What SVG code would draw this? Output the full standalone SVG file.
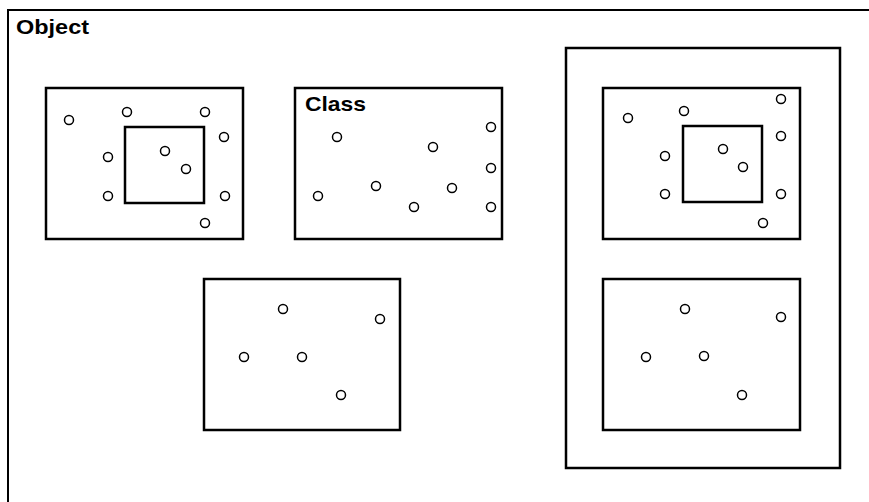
<svg xmlns="http://www.w3.org/2000/svg" width="869" height="502" viewBox="0 0 869 502">
<style>
.box{fill:none;stroke:#000;stroke-width:2.5}
.frame{fill:none;stroke:#000;stroke-width:2}
.o{fill:#fff;stroke:#000;stroke-width:1.5}
.lbl{font-family:"Liberation Sans",Arial,sans-serif;font-weight:bold;font-size:20.5px;fill:#000}
</style>
<rect width="869" height="502" fill="#fff"/>
<g id="object">
<path class="frame" d="M8,502 V10 H869"/>
<text class="lbl" x="16" y="34" textLength="73" lengthAdjust="spacingAndGlyphs">Object</text>
</g>
<g id="obj1">
<rect class="box" x="46" y="88" width="197" height="151"/>
<rect class="box" x="125" y="127" width="79" height="76"/>
<circle class="o" cx="69" cy="120" r="4.5"/>
<circle class="o" cx="127" cy="112" r="4.5"/>
<circle class="o" cx="205" cy="112" r="4.5"/>
<circle class="o" cx="224" cy="137" r="4.5"/>
<circle class="o" cx="108" cy="157" r="4.5"/>
<circle class="o" cx="165" cy="151" r="4.5"/>
<circle class="o" cx="186" cy="169" r="4.5"/>
<circle class="o" cx="108" cy="196" r="4.5"/>
<circle class="o" cx="225" cy="196" r="4.5"/>
<circle class="o" cx="205" cy="223" r="4.5"/>
</g>
<g id="class">
<rect class="box" x="295" y="88" width="207" height="151"/>
<text class="lbl" x="305" y="111" textLength="61" lengthAdjust="spacingAndGlyphs">Class</text>
<circle class="o" cx="337" cy="137" r="4.5"/>
<circle class="o" cx="433" cy="147" r="4.5"/>
<circle class="o" cx="491" cy="127" r="4.5"/>
<circle class="o" cx="491" cy="168" r="4.5"/>
<circle class="o" cx="376" cy="186" r="4.5"/>
<circle class="o" cx="452" cy="188" r="4.5"/>
<circle class="o" cx="318" cy="196" r="4.5"/>
<circle class="o" cx="414" cy="207" r="4.5"/>
<circle class="o" cx="491" cy="207" r="4.5"/>
</g>
<g id="obj2">
<rect class="box" x="204" y="279" width="196" height="151"/>
<circle class="o" cx="283" cy="309" r="4.5"/>
<circle class="o" cx="380" cy="319" r="4.5"/>
<circle class="o" cx="244" cy="357" r="4.5"/>
<circle class="o" cx="302" cy="357" r="4.5"/>
<circle class="o" cx="341" cy="395" r="4.5"/>
</g>
<g id="container">
<rect class="box" x="566" y="48" width="274" height="420"/>
</g>
<g id="obj3">
<rect class="box" x="603" y="88" width="197" height="151"/>
<rect class="box" x="683" y="126" width="79" height="76"/>
<circle class="o" cx="628" cy="118" r="4.5"/>
<circle class="o" cx="684" cy="111" r="4.5"/>
<circle class="o" cx="781" cy="99" r="4.5"/>
<circle class="o" cx="781" cy="136" r="4.5"/>
<circle class="o" cx="665" cy="156" r="4.5"/>
<circle class="o" cx="723" cy="149" r="4.5"/>
<circle class="o" cx="743" cy="167" r="4.5"/>
<circle class="o" cx="665" cy="194" r="4.5"/>
<circle class="o" cx="781" cy="194" r="4.5"/>
<circle class="o" cx="763" cy="223" r="4.5"/>
</g>
<g id="obj4">
<rect class="box" x="603" y="279" width="197" height="151"/>
<circle class="o" cx="685" cy="309" r="4.5"/>
<circle class="o" cx="781" cy="317" r="4.5"/>
<circle class="o" cx="646" cy="357" r="4.5"/>
<circle class="o" cx="704" cy="356" r="4.5"/>
<circle class="o" cx="742" cy="395" r="4.5"/>
</g>
<g id="connectors"></g>
</svg>
